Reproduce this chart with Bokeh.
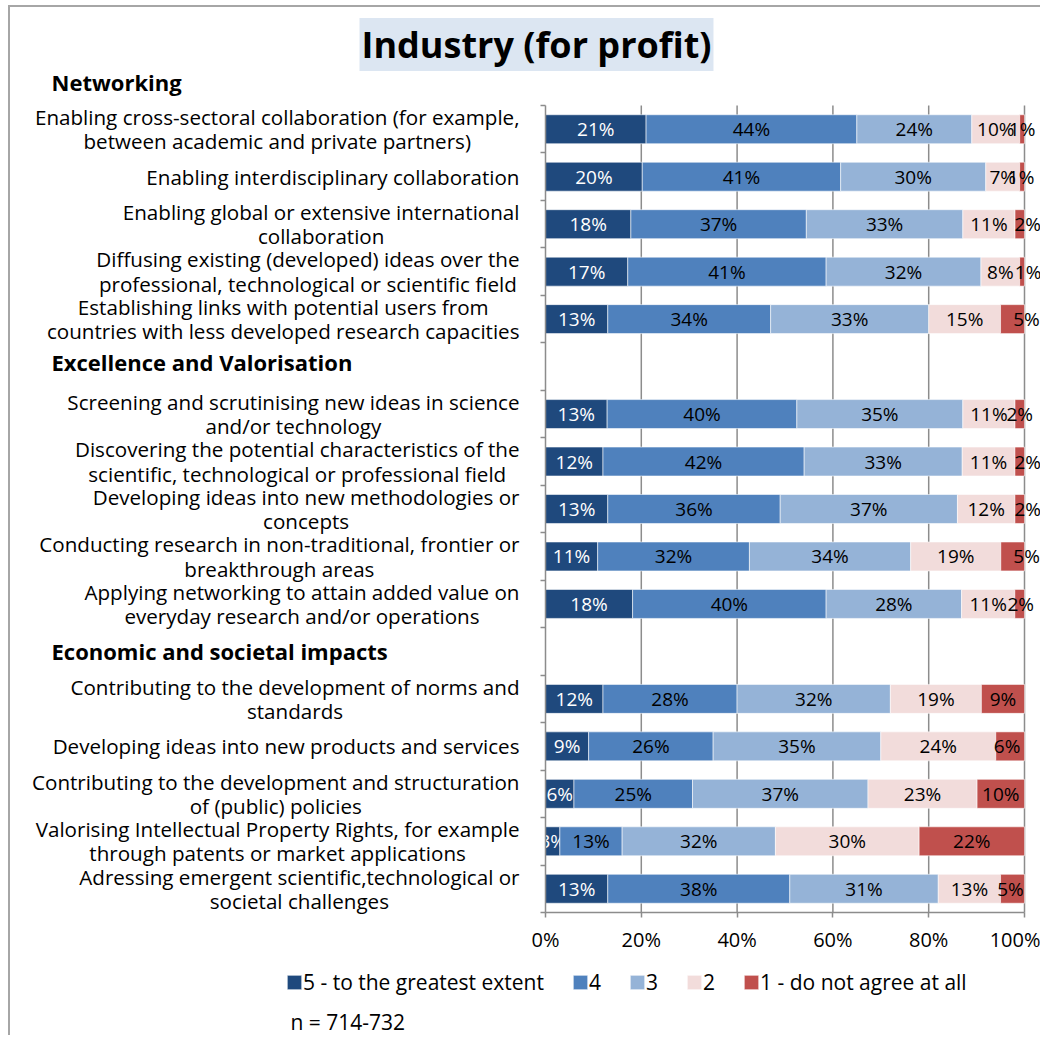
from bokeh.plotting import figure
from bokeh.models import (Range1d, FixedTicker, Label, Legend, LegendItem, ColumnDataSource,
                          LinearAxis, PrintfTickFormatter)
from bokeh.core.properties import value
from bokeh.embed import file_html
from bokeh.resources import INLINE

# ---------------- data ----------------
title_text = "Industry (for profit)"
sections = ["Networking", "Excellence and Valorisation", "Economic and societal impacts"]
categories = [
    "Enabling cross-sectoral collaboration (for example,\nbetween academic and private partners)",
    "Enabling interdisciplinary collaboration",
    "Enabling global or extensive international\ncollaboration",
    "Diffusing existing (developed) ideas over the\nprofessional, technological or scientific field",
    "Establishing links with potential users from\ncountries with less developed research capacities",
    "Screening and scrutinising new ideas in science\nand/or technology",
    "Discovering the potential characteristics of the\nscientific, technological or professional field",
    "Developing ideas into new methodologies or\nconcepts",
    "Conducting research in non-traditional, frontier or\nbreakthrough areas",
    "Applying networking to attain added value on\neveryday research and/or operations",
    "Contributing to the development of norms and\nstandards",
    "Developing ideas into new products and services",
    "Contributing to the development and structuration\nof (public) policies",
    "Valorising Intellectual Property Rights, for example\nthrough patents or market applications",
    "Adressing emergent scientific,technological or\nsocietal challenges",
]
category_section = [0] * 5 + [1] * 5 + [2] * 5
series_names = ["5 - to the greatest extent", "4", "3", "2", "1 - do not agree at all"]
s5 = [21, 20, 18, 17, 13, 13, 12, 13, 11, 18, 12, 9, 6, 3, 13]
s4 = [44, 41, 37, 41, 34, 40, 42, 36, 32, 40, 28, 26, 25, 13, 38]
s3 = [24, 30, 33, 32, 33, 35, 33, 37, 34, 28, 32, 35, 37, 32, 31]
s2 = [10, 7, 11, 8, 15, 11, 11, 12, 19, 11, 19, 24, 23, 30, 13]
s1 = [1, 1, 2, 1, 5, 2, 2, 2, 5, 2, 9, 6, 10, 22, 5]
x_ticks = [0, 20, 40, 60, 80, 100]
sample_note = "n = 714-732"

# ---------------- style / layout ----------------
colors = ["#1F497D", "#4F81BD", "#95B3D7", "#F2DCDB", "#C0504D"]
label_colors = ["white", "black", "black", "black", "black"]
last_label_nudge = [0, -1, 8, 6, 14, 0, 8, 8, 14, 1, 0, -3, 0, 0, -2]  # px
heading_nudge = [0, -5, 0]  # px
FONT = "Open Sans"
GRAY = "#8c8c8c"

OX, OY = 10, 7            # canvas origin in picture pixels
W, H = 1032, 1030
AX_X, AX_TOP, AX_BOT = 545, 105, 912   # plot area in picture pixels
PX = 4.79                 # pixels per percent
N_SLOTS = 17
SLOT = (AX_BOT - AX_TOP) / N_SLOTS


def dx(px):  # picture x -> data x
    return (px - AX_X) / PX


def dy(py):  # picture y -> data y
    return N_SLOTS - (py - AX_TOP) / SLOT


slots = [i + category_section[i] for i in range(len(categories))]
y_centers = [N_SLOTS - (s + 0.5) for s in slots]

p = figure(width=W, height=H, x_range=Range1d(dx(OX), dx(OX + W)),
           y_range=Range1d(dy(OY + H), dy(OY)),
           x_axis_type=None, y_axis_type=None, output_backend="svg", toolbar_location=None,
           min_border=0, outline_line_color=None, background_fill_color="white",
           border_fill_color="white", margin=(OY - 2, 0, 0, OX - 2),
           styles={"border-left": "2px solid #a6a6a6", "border-top": "2px solid #a6a6a6"})
p.xgrid.visible = False
p.ygrid.visible = False

# vertical gridlines (behind the bars)
p.segment(x0=x_ticks[1:], y0=[0] * 5, x1=x_ticks[1:], y1=[N_SLOTS] * 5,
          line_color=GRAY, line_width=1.5, level="underlay")

xaxis = LinearAxis(fixed_location=0, ticker=FixedTicker(ticks=x_ticks),
                   formatter=PrintfTickFormatter(format="%d%%"),
                   bounds=(0, 100), axis_line_color=GRAY, axis_line_width=1.5,
                   major_tick_line_color=GRAY, major_tick_line_width=1.5,
                   major_tick_out=5, major_tick_in=0, minor_tick_line_color=None,
                   major_label_standoff=8, major_label_text_font=FONT,
                   major_label_text_font_size="20px", major_label_text_color="black")
p.add_layout(xaxis, "below")

boundaries = list(range(N_SLOTS + 1))
yaxis = LinearAxis(fixed_location=0, ticker=FixedTicker(ticks=boundaries),
                   major_label_overrides={b: "" for b in boundaries},
                   bounds=(0, N_SLOTS), axis_line_color=GRAY, axis_line_width=1.5,
                   major_tick_line_color=GRAY, major_tick_line_width=1.5,
                   major_tick_out=5, major_tick_in=0, minor_tick_line_color=None)
p.add_layout(yaxis, "left")

# category labels: block right-aligned next to the axis, lines centred
p.text(x=[0] * len(categories), y=y_centers, text=categories, x_offset=-26,
       anchor=value("center_right"), text_align="center", text_baseline="middle",
       text_font=value(FONT), text_font_size="20.6px", text_color="black",
       text_line_height=0.87)

series = [s5, s4, s3, s2, s1]
totals = [sum(v[i] for v in series) for i in range(len(categories))]
cum = [0.0] * len(categories)
renderers = []
for j, vals in enumerate(series):
    left = list(cum)
    right = [cum[i] + vals[i] / totals[i] * 100 for i in range(len(vals))]
    cum = right
    src = ColumnDataSource(dict(
        y=y_centers, left=left, right=right,
        mid=[(l + r) / 2 for l, r in zip(left, right)],
        lab=[f"{v}%" for v in vals],
        nudge=last_label_nudge if j == 4 else [0] * len(vals),
    ))
    r = p.hbar(y="y", left="left", right="right", height=0.61, source=src,
               fill_color=colors[j], line_color="white", line_width=0.8, line_alpha=0.7)
    renderers.append(r)
    p.text(x="mid", y="y", text="lab", source=src, x_offset="nudge",
           text_align="center", text_baseline="middle", text_font=value(FONT),
           text_font_size="19px", text_color=label_colors[j])

# section headings
head_slots = [6 * k - 1 for k in range(len(sections))]
p.text(x=[dx(51)] * len(sections), y=[N_SLOTS - (s + 0.5) for s in head_slots], text=sections,
       y_offset=heading_nudge, text_align="left", text_baseline="middle", text_font=value(FONT),
       text_font_style="bold", text_font_size="22px", text_color="black")

# title with box
p.add_layout(Label(x=dx(536), y=dy(44), text=title_text,
                   text_align="center", text_baseline="middle", text_font=FONT,
                   text_font_style="bold", text_font_size="36px", text_color="black",
                   background_fill_color="#dce6f2", padding=2))

legend = Legend(items=[LegendItem(label=n, renderers=[r]) for n, r in zip(series_names, renderers)],
                orientation="horizontal", location=(285 - OX, OY + H - 996),
                glyph_width=18, glyph_height=18, label_width=0,
                label_standoff=0, spacing=27, padding=0, margin=0, border_line_color=None,
                background_fill_alpha=0, label_text_font=FONT, label_text_font_size="21px",
                label_text_color="black", label_height=18)
p.add_layout(legend)

p.add_layout(Label(x=dx(290), y=dy(1021.5), text=sample_note,
                   text_align="left", text_baseline="middle", text_font=FONT,
                   text_font_size="21px", text_color="black"))

open("out.html", "w").write(file_html(p, INLINE))
